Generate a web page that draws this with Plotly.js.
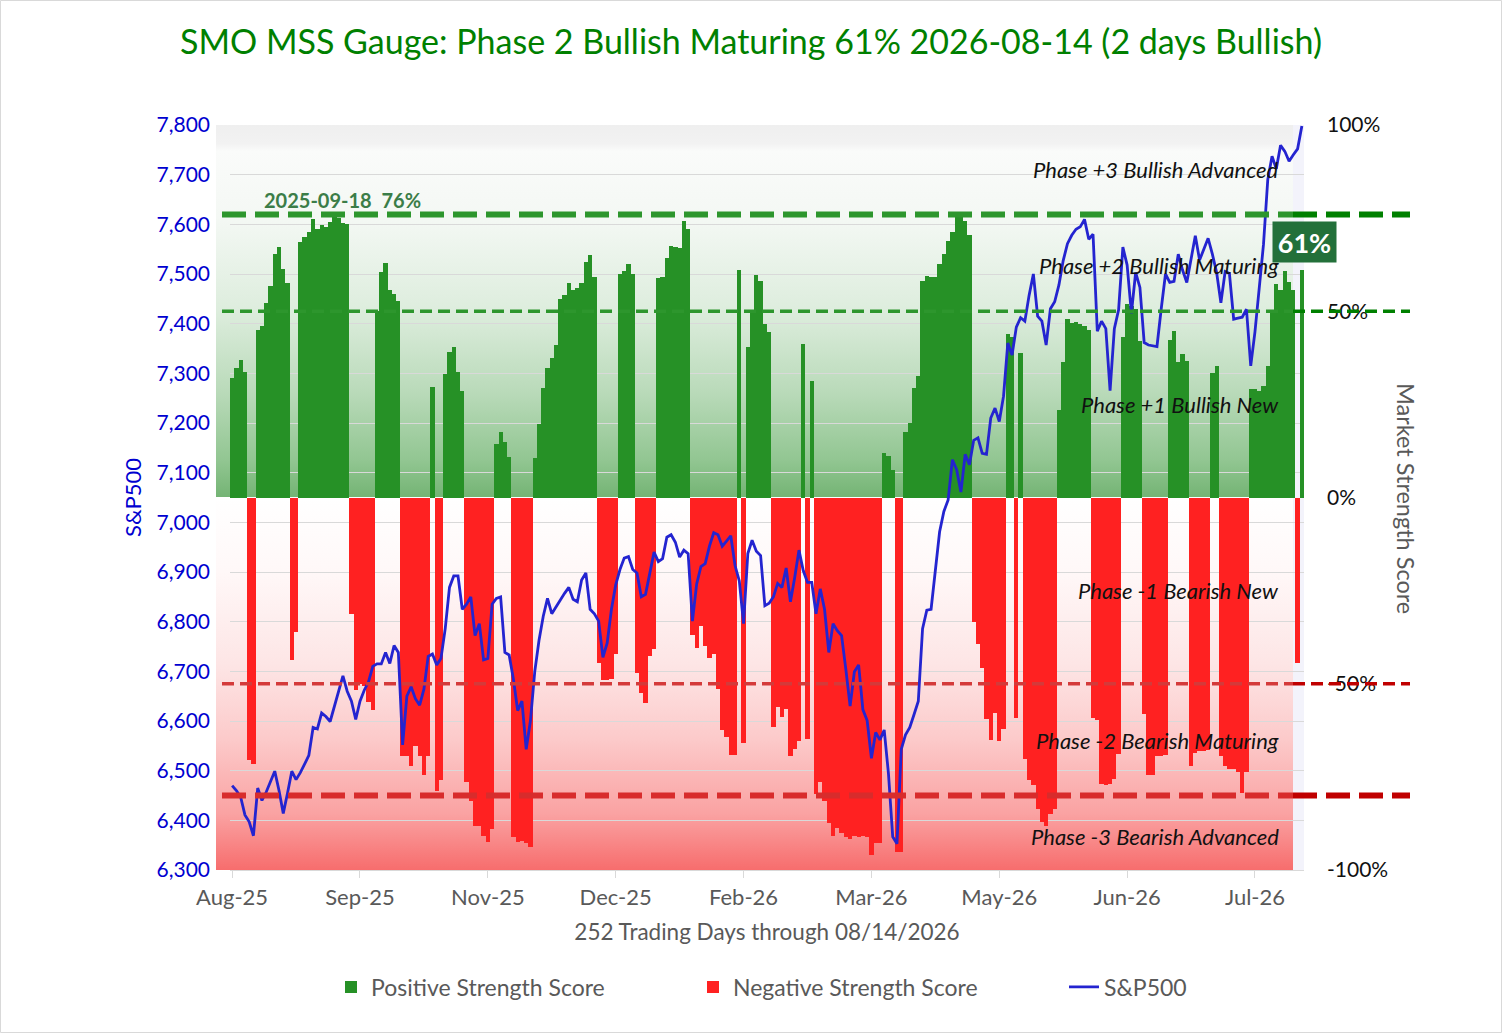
<!DOCTYPE html>
<html>
<head>
<meta charset="utf-8">
<script src="https://cdn.plot.ly/plotly-3.0.1.min.js"></script>
<style>
html,body{margin:0;padding:0;background:#ffffff;}
#chart{width:1502px;height:1033px;}
</style>
</head>
<body>
<div id="chart"></div>
<script>
// ---------------- DATA ----------------
const strengthScore = [
 32.2,34.8,36.8,33.8,-70.6,-71.6,45,46,52.3,56.9,
 65.3,67.3,61.4,57.5,-43.5,-36.1,68.6,69.9,71.4,74.7,
 72.2,73.1,72.7,74,76,75,73.8,73.4,-31.3,-51.7,
 -50,-50.5,-55,-57,50,60.5,63,55.8,54.5,52.7,
 -69.5,-69.5,-72,-66.7,-69.5,-74.5,-69.5,29.7,-78.8,-75.8,
 33.1,39,40.5,33.8,28.6,-76.4,-81.4,-88.2,-88.2,-90.8,
 -92.4,-89.1,14.3,17.7,14.8,10.9,-91.1,-92.4,-92.1,-92.7,
 -93.8,10.5,19.6,29.5,34.8,37.4,41,53.4,54.3,57.5,
 55.8,56.2,57.5,63.1,65.2,59.1,-44.3,-49.1,-49.1,-48.7,
 -41.9,60.1,60.8,62.7,59.9,-47.1,-52.6,-55.2,-42.6,-40.6,
 58.8,59.2,64.4,67.5,67.3,66.9,74.2,72.2,-36.9,-40.5,
 -34.6,-39.8,-43.1,-42,-51.3,-62.4,-64.3,-69,-69,61.2,
 -66,40.3,50.1,59.7,58.2,46.5,44.5,-61.5,-56.3,-58.9,
 -56.9,-69.5,-67.6,-65.4,41.3,-64.7,31.4,-79.7,-76.4,-81.6,
 -87.5,-90.8,-88.8,-90.1,-91.1,-91.7,-90.8,-91.1,-90.8,-91.1,
 -96,-92.7,-92.7,12,11.2,7.5,-95.3,-95.3,17.5,20.1,
 29.5,32.7,58.2,59.5,59.1,59.2,62.7,65.3,68.8,71.4,
 75.9,75.9,74.2,70.5,-33.5,-39.3,-45.8,-59.5,-65.1,-57.8,
 -65.4,-62.1,44,43,-59.3,38.7,-70.3,-75.8,-77.1,-83.6,
 -87.2,-88.2,-84.9,-83.6,23.5,36.5,47.8,46.8,47.1,46.5,
 46,45,-59.2,-59.7,-77,-77.3,-77,-75.5,-68.8,43,
 52,51.5,50.5,42,-58.2,-74.6,-74.6,-69.5,-69.3,-69,
 42.3,44.8,36.3,38.6,36.6,-72.2,-68.6,-68.1,-68,-67.7,
 33.4,35.4,-69.5,-72.2,-72.8,-72.8,-73.7,-79.4,-73.7,29.2,
 29.2,28.5,30,35.4,49.7,57.2,55.7,60.8,57.8,55.7,
 -44.5,61
];

const sp500 = [
 6470,6460,6447,6411,6397,6369,6465,6440,6457,6479,
 6499,6460,6414,6455,6499,6482,6496,6513,6531,6587,
 6584,6616,6609,6599,6630,6660,6691,6660,6640,6603,
 6640,6662,6679,6710,6715,6715,6738,6716,6752,6738,
 6552,6650,6669,6645,6632,6664,6730,6735,6713,6726,
 6786,6869,6892,6892,6825,6835,6850,6772,6796,6723,
 6726,6835,6847,6850,6738,6733,6684,6621,6640,6543,
 6601,6699,6762,6811,6847,6816,6830,6845,6857,6869,
 6845,6840,6884,6898,6825,6816,6801,6728,6757,6825,
 6874,6905,6928,6931,6905,6898,6850,6855,6898,6940,
 6921,6927,6970,6975,6960,6930,6944,6937,6801,6876,
 6911,6917,6952,6979,6975,6952,6962,6973,6913,6882,
 6796,6937,6964,6942,6933,6832,6837,6850,6877,6869,
 6908,6840,6889,6944,6903,6879,6879,6816,6866,6825,
 6738,6796,6782,6772,6704,6630,6699,6713,6623,6601,
 6525,6577,6562,6582,6494,6367,6353,6543,6572,6587,
 6613,6640,6786,6823,6825,6908,6981,7022,7045,7126,
 7106,7061,7137,7116,7165,7170,7139,7137,7210,7230,
 7203,7254,7361,7337,7393,7412,7405,7457,7500,7415,
 7405,7357,7430,7444,7478,7527,7561,7578,7590,7595,
 7610,7570,7580,7385,7405,7390,7265,7390,7428,7554,
 7518,7421,7503,7473,7362,7357,7355,7354,7430,7500,
 7483,7485,7540,7508,7483,7530,7577,7528,7550,7572,
 7540,7503,7442,7505,7501,7409,7411,7413,7429,7315,
 7384,7471,7560,7690,7737,7712,7759,7747,7727,7740,
 7752,7798
];

const monthTicks = ['Aug-25','Sep-25','Nov-25','Dec-25','Feb-26','Mar-26','May-26','Jun-26','Jul-26'];
const monthTickDays = [0,30,60,90,120,150,180,210,240];

const phaseLabels = ['Phase +3 Bullish Advanced','Phase +2 Bullish Maturing','Phase +1 Bullish New',
                     'Phase -1 Bearish New','Phase -2 Bearish Maturing','Phase -3 Bearish Advanced'];
const phaseLabelLevels = [88, 62.3, 25, -25, -65.2, -91];

const thresholdLevels = [76, 50, -50, -80];
const scoreTicks = [-100, -50, 0, 50, 100];
const scoreTickText = ['-100%','-50%','0%','50%','100%'];

const peakDay = 26, peakLevel = 80;
const peakLabel = '2025-09-18\u00a0\u00a076%';
const latestScoreLabel = '61%';
const chartTitle = 'SMO MSS Gauge: Phase 2 Bullish Maturing 61% 2026-08-14 (2 days Bullish)';

// ---------------- DERIVED ----------------
const days = strengthScore.map((_, i) => i);
const positiveScore = strengthScore.map(v => v > 0 ? v : null);
const negativeScore = strengthScore.map(v => v < 0 ? v : null);

// geometry helpers (px -> paper)
const L = 230, PW = 1074, T = 125, PH = 745;
const px = v => (v - L) / PW;
const py = v => (T + PH - v) / PH;

function makeBackground() {
  const c = document.createElement('canvas');
  c.width = 1077; c.height = 745;
  const g = c.getContext('2d');
  const mid = 372;
  let gr = g.createLinearGradient(0, 0, 0, mid);
  gr.addColorStop(0.00, '#efefef');
  gr.addColorStop(0.05, '#f2f2f2');
  gr.addColorStop(0.07, '#fafbfa');
  gr.addColorStop(0.25, '#f4f8f4');
  gr.addColorStop(0.50, '#ddeddd');
  gr.addColorStop(0.72, '#b9dab9');
  gr.addColorStop(0.90, '#92c692');
  gr.addColorStop(1.00, '#74b474');
  g.fillStyle = gr; g.fillRect(0, 0, c.width, mid);
  gr = g.createLinearGradient(0, mid, 0, 745);
  gr.addColorStop(0.00, '#ffffff');
  gr.addColorStop(0.20, '#fff8f8');
  gr.addColorStop(0.45, '#fde5e5');
  gr.addColorStop(0.65, '#fccaca');
  gr.addColorStop(0.85, '#faa2a2');
  gr.addColorStop(1.00, '#f76d6d');
  g.fillStyle = gr; g.fillRect(0, mid, c.width, 745 - mid);
  return c.toDataURL('image/png');
}

// ---------------- TRACES ----------------
const traces = [
  { type:'bar', x:days, y:positiveScore, name:'Positive Strength Score', legend:'legend',
    marker:{color:'#269126', line:{width:0}}, yaxis:'y', xaxis:'x', hoverinfo:'skip' },
  { type:'bar', x:days, y:negativeScore, name:'Negative Strength Score', legend:'legend2',
    marker:{color:'#ff2121', line:{width:0}}, yaxis:'y', xaxis:'x', hoverinfo:'skip' },
  { type:'scatter', mode:'lines', x:days, y:sp500, name:'S&P500', legend:'legend3',
    line:{color:'#2424d0', width:2.8}, yaxis:'y2', xaxis:'x', hoverinfo:'skip' }
];

// ---------------- SHAPES ----------------
const split = px(1293), lineStart = px(222), lineEnd = px(1410);
const lineStyles = {
  '76':  {inner:'#2d962d', outer:'#008000', width:6,   dash:'24px,9px'},
  '50':  {inner:'#2d962d', outer:'#008000', width:3.5, dash:'12px,6px'},
  '-50': {inner:'#d43a3a', outer:'#c00000', width:3.5, dash:'12px,6px'},
  '-80': {inner:'#d82c2c', outer:'#c00000', width:6,   dash:'24px,9px'}
};
const shapes = [
  {type:'rect', xref:'paper', yref:'paper', x0:split, x1:1, y0:0, y1:1,
   fillcolor:'#f3f3fb', line:{width:0}, layer:'below'},
  {type:'rect', xref:'paper', yref:'paper', x0:px(0.5), x1:px(1501.5), y0:py(1032.5), y1:py(0.5),
   fillcolor:'rgba(0,0,0,0)', line:{color:'#d9d9d9', width:1}, layer:'below'}
];
thresholdLevels.forEach(lv => {
  const s = lineStyles[String(lv)];
  shapes.push({type:'line', xref:'paper', yref:'y', x0:lineStart, x1:split, y0:lv, y1:lv,
               line:{color:s.inner, width:s.width, dash:s.dash}, layer:'above'});
  shapes.push({type:'line', xref:'paper', yref:'y', x0:split, x1:lineEnd, y0:lv, y1:lv,
               line:{color:s.outer, width:s.width, dash:s.dash}, layer:'above'});
});

// ---------------- ANNOTATIONS ----------------
const annotations = phaseLabels.map((t, i) => ({
  text:t, xref:'paper', yref:'y', x:px(1281), y:phaseLabelLevels[i],
  xanchor:'right', yanchor:'middle', showarrow:false,
  font:{family:'Lato', size:22, color:'#111111', style:'italic'}
}));
annotations.push({
  text:'<b>' + peakLabel + '</b>', xref:'x', yref:'y', x:peakDay, y:peakLevel,
  xanchor:'center', yanchor:'middle', showarrow:false,
  font:{family:'Lato', size:20, color:'#3b7d48'}
});
annotations.push({
  text:'<b>' + latestScoreLabel + '</b>', xref:'paper', yref:'paper', x:px(1304.5), y:py(242),
  xanchor:'center', yanchor:'middle', showarrow:false, bgcolor:'#23703a',
  width:63, height:40, borderpad:0,
  font:{family:'Lato', size:27, color:'#ffffff'}
});
annotations.push({
  text:'Market Strength Score', xref:'paper', yref:'paper', x:px(1406), y:py(498),
  xanchor:'center', yanchor:'middle', textangle:90, showarrow:false,
  font:{family:'Lato', size:23.5, color:'#595959'}
});

const legendBase = (xpx) => ({
  orientation:'h', xref:'container', yref:'container', x:xpx/1502, xanchor:'left',
  y:1 - 987/1033, yanchor:'middle', font:{family:'Lato', size:23, color:'#595959'},
  bgcolor:'rgba(0,0,0,0)', borderwidth:0
});

// ---------------- LAYOUT ----------------
const layout = {
  width:1502, height:1033,
  margin:{l:L, r:1502 - L - PW, t:T, b:1033 - T - PH, pad:0},
  paper_bgcolor:'#ffffff', plot_bgcolor:'#ffffff',
  font:{family:'Lato', color:'#595959'},
  title:{text:chartTitle, x:0.5, xref:'container', xanchor:'center',
         y:1 - 42/1033, yref:'container', yanchor:'middle',
         font:{family:'Lato', size:34, color:'#008000'}},
  barmode:'overlay', bargap:0,
  showlegend:true,
  legend:legendBase(331),
  legend2:legendBase(693),
  legend3:legendBase(1064),
  hovermode:false,
  xaxis:{range:[-0.5, 251.5], tickmode:'array', tickvals:monthTickDays, ticktext:monthTicks,
         ticks:'outside', ticklen:7, tickcolor:'#d9d9d9', showline:true, linecolor:'#d9d9d9',
         showgrid:false, zeroline:false, ticklabelstandoff:1,
         tickfont:{family:'Lato', size:22, color:'#595959'},
         title:{text:'252 Trading Days through 08/14/2026', standoff:14,
                font:{family:'Lato', size:22.5, color:'#595959'}}},
  yaxis:{range:[-100,100], side:'right', tickmode:'array', tickvals:scoreTicks, ticktext:scoreTickText,
         showgrid:false, zeroline:false, ticks:'', ticklabelstandoff:22,
         tickfont:{family:'Lato', size:21, color:'#111111'}},
  yaxis2:{range:[6300,7800], side:'left', overlaying:'y', dtick:100, tick0:6300, tickformat:',d',
          showgrid:true, gridcolor:'#d9d9d9', gridwidth:1, zeroline:false, ticks:'',
          ticklabelstandoff:19, tickfont:{family:'Lato', size:21, color:'#0000d0'},
          title:{text:'S&P500', standoff:8, font:{family:'Lato', size:22, color:'#0000d0'}}},
  shapes:shapes,
  annotations:annotations,
  images:[{source:makeBackground(), xref:'paper', yref:'paper', x:px(216), y:1,
           sizex:1077/PW, sizey:1, sizing:'stretch', xanchor:'left', yanchor:'top',
           layer:'below', opacity:1}]
};

Plotly.newPlot('chart', traces, layout, {staticPlot:true, displayModeBar:false});
</script>
</body>
</html>
